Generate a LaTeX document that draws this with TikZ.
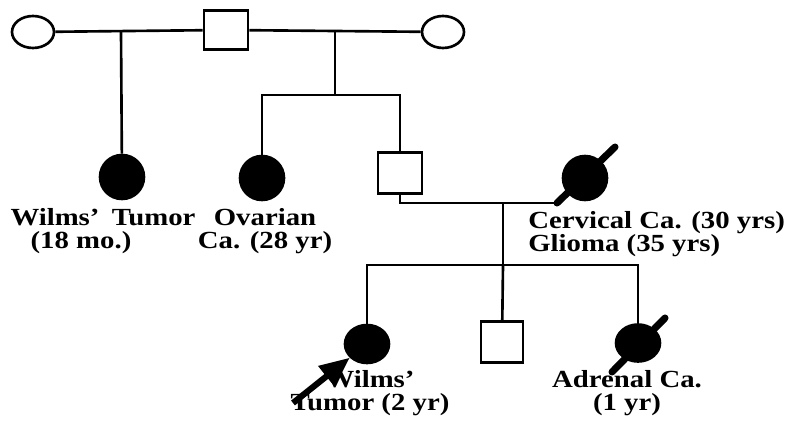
\documentclass[tikz,border=0pt]{standalone}
\usepackage{fontspec}
\setmainfont{Liberation Serif}[FakeStretch=1.17]
\usetikzlibrary{shapes.geometric,arrows.meta}

\begin{document}
\begin{tikzpicture}[x=0.02cm, y=-0.02cm, line width=1.5pt,
    male/.style={rectangle, draw, minimum width=0.88cm, minimum height=0.8cm},
    female/.style={ellipse, draw, minimum width=0.84cm, minimum height=0.64cm},
    affected/.style={ellipse, draw, fill=black, minimum width=0.88cm, minimum height=0.88cm},
    dead/.style={line width=4pt, line cap=round},
    lbl/.style={font=\fontsize{14}{13.5}\selectfont\bfseries, inner sep=0pt, align=center}]

    \useasboundingbox (0,0) rectangle (786,435);

    % first generation
    \node[female] (gm1) at (33,32) {};
    \node[male, minimum height=0.78cm] (gf) at (226,30) {};
    \node[female] (gm2) at (443,32) {};
    \draw (gm1) -- (gf) -- (gm2);
    \coordinate (m1) at (121,32);
    \coordinate (m2) at (335,32);
    \coordinate (sib1) at (335,95);

    % second generation
    \node[affected] (c1) at (122,177) {};
    \node[affected] (c2) at (262,178) {};
    \node[male, minimum height=0.82cm] (f1) at (400,173) {};
    \node[affected] (cerv) at (585,178) {};
    \coordinate (cerv-lo) at ([shift={(-28,25)}]cerv.center);
    \coordinate (cerv-hi) at ([shift={(30,-31)}]cerv.center);
    \draw[dead] (cerv-lo) -- (cerv-hi);
    \draw (m1) -- (c1);
    \draw (m2) -- (sib1);
    \draw (c2.north) |- (sib1) -| (f1.north);
    \draw (f1.south) |- (cerv-lo);
    \coordinate (mar2) at (503,203);
    \coordinate (sib2) at (503,265);
    \draw (mar2) -- (sib2);

    % third generation
    \node[affected, minimum height=0.76cm] (p1) at (367,344) {};
    \node[male, minimum width=0.84cm, minimum height=0.82cm] (s2) at (502,342) {};
    \node[affected, minimum height=0.74cm] (c5) at (638,343) {};
    \coordinate (c5-lo) at ([shift={(-26,29)}]c5.center);
    \coordinate (c5-hi) at ([shift={(27,-25)}]c5.center);
    \draw[dead] (c5-lo) -- (c5-hi);
    \draw (p1.north) |- (sib2) -| (c5.north);
    \draw (sib2) -- (s2);
    \coordinate (ptail) at (293,403);
    \draw[line width=3.5pt, -{Triangle[length=0.6cm, width=0.5cm]}] (ptail) -- (p1);

    % labels
    \node[lbl] (l1a) at (103,217) {Wilms'\enspace Tumor};
    \node[lbl] (l1b) at (81,243) {(18 mo.)};
    \node[lbl] (l2) at (265,231) {Ovarian\\Ca. (28 yr)};
    \node[lbl, anchor=west, align=left] (l3) at (527,234) {Cervical Ca. (30 yrs)\\Glioma (35 yrs)};
    \node[lbl] (l4) at (370,393) {Wilms'\\Tumor (2 yr)};
    \node[lbl] (l5) at (627,393) {Adrenal Ca.\\(1 yr)};
\end{tikzpicture}
\end{document}
